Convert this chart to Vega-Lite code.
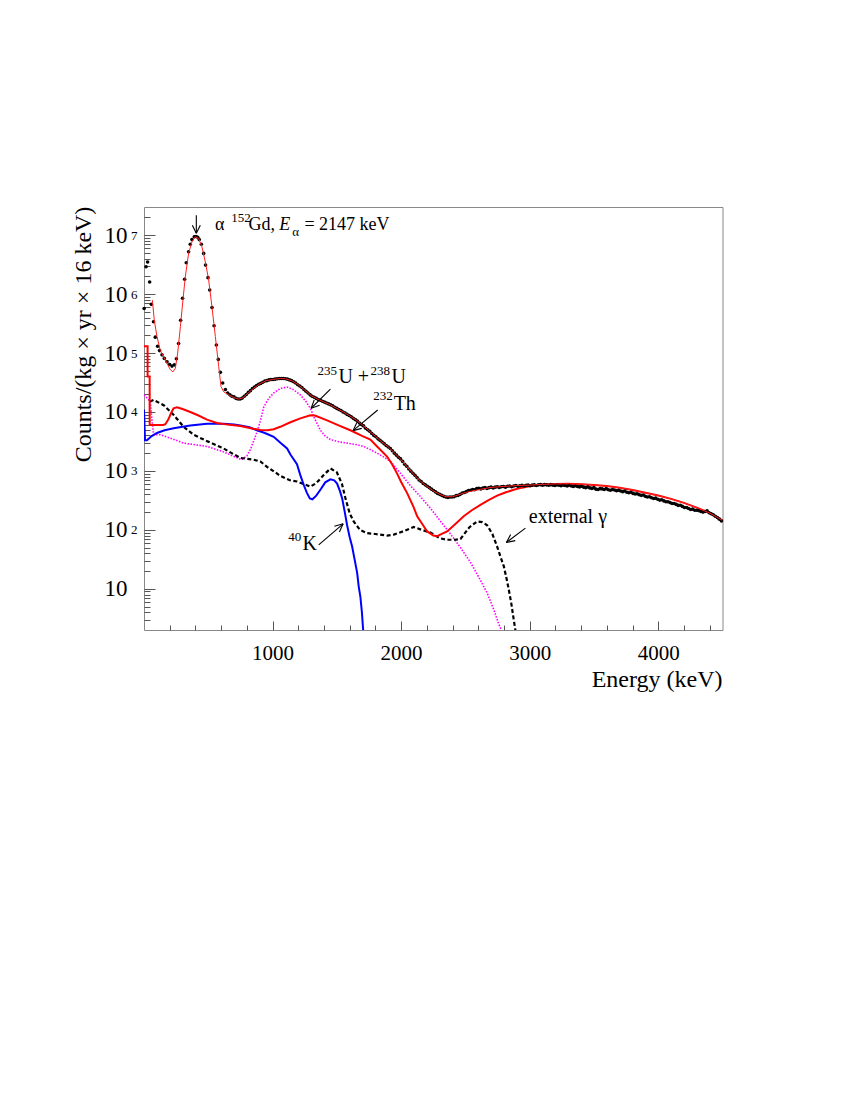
{
  "$schema": "https://vega.github.io/schema/vega-lite/v6.json",
  "width": 578.5,
  "height": 423,
  "autosize": {"type": "none"},
  "padding": {"left": 144, "top": 207, "right": 127, "bottom": 470},
  "background": "white",
  "config": {
    "font": "Liberation Serif",
    "view": {"stroke": "#888888", "strokeWidth": 1},
    "axis": {"domain": false, "grid": false, "tickColor": "#555555", "labelColor": "#000000", "titleColor": "#000000", "labelFont": "Liberation Serif", "titleFont": "Liberation Serif", "titleFontWeight": "normal"},
    "text": {"font": "Liberation Serif", "align": "left", "baseline": "alphabetic", "color": "#000000"}
  },
  "datasets": {
    "obs": [
      {"E":1,"C":570000},{"E":16,"C":2900000},{"E":28,"C":3500000},{"E":44,"C":1600000},{"E":57,"C":670000},{"E":74,"C":340000},{"E":88,"C":186000},{"E":106,"C":130000},{"E":121,"C":110000},{"E":140,"C":93000},{"E":158,"C":81000},{"E":179,"C":71000},{"E":199,"C":64000},{"E":218,"C":60000},{"E":236,"C":63000},{"E":252,"C":80000},{"E":269,"C":145000},{"E":285,"C":360000},{"E":300,"C":850000},{"E":316,"C":1780000},{"E":329,"C":3400000},{"E":347,"C":5200000},{"E":360,"C":7000000},{"E":373,"C":8400000},{"E":391,"C":9400000},{"E":405,"C":9500000},{"E":418,"C":9200000},{"E":430,"C":8400000},{"E":446,"C":7000000},{"E":464,"C":4900000},{"E":479,"C":3100000},{"E":498,"C":1900000},{"E":511,"C":1170000},{"E":529,"C":590000},{"E":545,"C":290000},{"E":563,"C":137000},{"E":578,"C":78000},{"E":594,"C":47000},{"E":612,"C":31000},{"E":633,"C":24000},{"E":651,"C":21000},
      {"E":668,"C":19500},{"E":684,"C":18500},{"E":700,"C":18000},{"E":716,"C":17000},{"E":732,"C":16600},{"E":748,"C":16600},{"E":764,"C":17200},{"E":780,"C":18500},{"E":796,"C":19800},{"E":812,"C":21500},{"E":828,"C":23000},{"E":844,"C":25000},{"E":860,"C":26500},{"E":876,"C":28000},{"E":892,"C":29500},{"E":908,"C":30500},{"E":924,"C":32000},{"E":940,"C":33500},{"E":956,"C":34000},{"E":972,"C":35000},{"E":988,"C":35500},{"E":1004,"C":35500},{"E":1020,"C":36000},{"E":1036,"C":36500},{"E":1052,"C":37000},{"E":1068,"C":37000},{"E":1084,"C":37000},{"E":1100,"C":36500},{"E":1116,"C":36000},{"E":1132,"C":35000},{"E":1148,"C":34000},{"E":1164,"C":32500},{"E":1180,"C":31000},{"E":1196,"C":29000},{"E":1212,"C":27500},{"E":1228,"C":26000},{"E":1244,"C":24000},{"E":1260,"C":22500},{"E":1276,"C":21000},{"E":1292,"C":19500},{"E":1308,"C":18500},{"E":1324,"C":17800},{"E":1340,"C":17000},{"E":1356,"C":16300},{"E":1372,"C":15800},{"E":1388,"C":15200},{"E":1404,"C":14700},{"E":1420,"C":14200},{"E":1436,"C":13700},{"E":1452,"C":13200},{"E":1468,"C":12700},{"E":1484,"C":12000},{"E":1500,"C":11500},{"E":1516,"C":11000},{"E":1532,"C":10600},{"E":1548,"C":10000},{"E":1564,"C":9600},{"E":1580,"C":9100},{"E":1596,"C":8700},{"E":1612,"C":8300},{"E":1628,"C":7800},{"E":1644,"C":7400},{"E":1660,"C":7000},{"E":1676,"C":6500},{"E":1692,"C":6100},{"E":1708,"C":5800},{"E":1724,"C":5300},{"E":1740,"C":5000},{"E":1756,"C":4700},{"E":1772,"C":4300},{"E":1788,"C":4000},{"E":1804,"C":3800},{"E":1820,"C":3500},{"E":1836,"C":3300},{"E":1852,"C":3100},{"E":1868,"C":2900},{"E":1884,"C":2700},{"E":1900,"C":2550},{"E":1916,"C":2400},{"E":1932,"C":2200},{"E":1948,"C":2000},{"E":1964,"C":1850},{"E":1980,"C":1700},{"E":1996,"C":1600},{"E":2012,"C":1450},{"E":2028,"C":1300},{"E":2044,"C":1200},{"E":2060,"C":1080},{"E":2076,"C":990},{"E":2092,"C":910},{"E":2108,"C":840},{"E":2124,"C":770},{"E":2140,"C":700},{"E":2156,"C":660},{"E":2172,"C":610},{"E":2188,"C":580},{"E":2204,"C":550},{"E":2220,"C":520},{"E":2236,"C":490},{"E":2252,"C":465},{"E":2268,"C":440},{"E":2284,"C":415},{"E":2300,"C":400},{"E":2316,"C":385},{"E":2332,"C":370},{"E":2348,"C":360},{"E":2364,"C":355},{"E":2380,"C":360},{"E":2396,"C":360},{"E":2412,"C":365},{"E":2428,"C":380},{"E":2444,"C":385},{"E":2460,"C":400},{"E":2476,"C":420},{"E":2492,"C":430},{"E":2508,"C":445},{"E":2524,"C":465},{"E":2540,"C":470},{"E":2556,"C":485},{"E":2572,"C":480},{"E":2588,"C":500},{"E":2604,"C":505},{"E":2620,"C":495},{"E":2636,"C":510},{"E":2652,"C":520},{"E":2668,"C":505},{"E":2684,"C":520},{"E":2700,"C":530},{"E":2716,"C":515},{"E":2732,"C":530},{"E":2748,"C":540},{"E":2764,"C":525},{"E":2780,"C":540},{"E":2796,"C":545},{"E":2812,"C":530},{"E":2828,"C":550},{"E":2844,"C":555},{"E":2860,"C":540},{"E":2876,"C":555},{"E":2892,"C":565},{"E":2908,"C":550},{"E":2924,"C":560},{"E":2940,"C":570},{"E":2956,"C":555},{"E":2972,"C":570},{"E":2988,"C":575},{"E":3004,"C":560},{"E":3020,"C":575},{"E":3036,"C":580},{"E":3052,"C":565},{"E":3068,"C":580},{"E":3084,"C":585},{"E":3100,"C":570},{"E":3116,"C":585},{"E":3132,"C":580},{"E":3148,"C":570},{"E":3164,"C":585},{"E":3180,"C":575},{"E":3196,"C":565},{"E":3212,"C":580},{"E":3228,"C":570},{"E":3244,"C":560},{"E":3260,"C":575},{"E":3276,"C":565},{"E":3292,"C":555},{"E":3308,"C":570},{"E":3324,"C":555},{"E":3340,"C":545},{"E":3356,"C":560},{"E":3372,"C":545},{"E":3388,"C":535},{"E":3404,"C":550},{"E":3420,"C":530},{"E":3436,"C":520},{"E":3452,"C":535},{"E":3468,"C":515},{"E":3484,"C":505},{"E":3500,"C":520},{"E":3516,"C":490},{"E":3532,"C":485},{"E":3548,"C":500},{"E":3564,"C":495},{"E":3580,"C":485},{"E":3596,"C":500},{"E":3612,"C":480},{"E":3628,"C":470},{"E":3644,"C":485},{"E":3660,"C":475},{"E":3676,"C":460},{"E":3692,"C":470},{"E":3708,"C":455},{"E":3724,"C":445},{"E":3740,"C":455},{"E":3756,"C":435},{"E":3772,"C":425},{"E":3788,"C":435},{"E":3804,"C":415},{"E":3820,"C":405},{"E":3836,"C":410},{"E":3852,"C":395},{"E":3868,"C":385},{"E":3884,"C":390},{"E":3900,"C":370},{"E":3916,"C":360},{"E":3932,"C":365},{"E":3948,"C":350},{"E":3964,"C":340},{"E":3980,"C":345},{"E":3996,"C":330},{"E":4012,"C":320},{"E":4028,"C":325},{"E":4044,"C":310},{"E":4060,"C":300},{"E":4076,"C":300},{"E":4092,"C":290},{"E":4108,"C":280},{"E":4124,"C":280},{"E":4140,"C":270},{"E":4156,"C":260},{"E":4172,"C":262},{"E":4188,"C":250},{"E":4204,"C":240},{"E":4220,"C":240},{"E":4236,"C":230},{"E":4252,"C":222},{"E":4268,"C":225},{"E":4284,"C":215},{"E":4300,"C":215},{"E":4316,"C":212},{"E":4332,"C":205},{"E":4348,"C":200},{"E":4364,"C":205},{"E":4380,"C":210},{"E":4396,"C":195},{"E":4412,"C":188},{"E":4428,"C":180},{"E":4444,"C":170},{"E":4460,"C":162},{"E":4476,"C":152},{"E":4492,"C":142}
    ],
    "fit": [
      {"E":65,"C":790000},{"E":80,"C":360000},{"E":101,"C":190000},{"E":127,"C":110000},{"E":166,"C":76000},{"E":205,"C":52000},{"E":225,"C":48000},{"E":244,"C":55000},{"E":262,"C":100000},{"E":283,"C":280000},{"E":303,"C":790000},{"E":321,"C":1950000},{"E":347,"C":4900000},{"E":373,"C":7700000},{"E":399,"C":9400000},{"E":425,"C":8800000},{"E":451,"C":6300000},{"E":477,"C":3500000},{"E":503,"C":1740000},{"E":529,"C":600000},{"E":555,"C":190000},{"E":581,"C":59000},{"E":599,"C":27000},{"E":620,"C":22000},{"E":659,"C":19500},{"E":700,"C":17500},{"E":736,"C":16500},{"E":770,"C":17500},{"E":800,"C":20000},{"E":850,"C":25000},{"E":900,"C":30000},{"E":950,"C":34000},{"E":1000,"C":35500},{"E":1060,"C":37000},{"E":1100,"C":36500},{"E":1150,"C":34000},{"E":1200,"C":29000},{"E":1250,"C":23500},{"E":1300,"C":19000},{"E":1350,"C":16500},{"E":1400,"C":14800},{"E":1450,"C":13200},{"E":1500,"C":11500},{"E":1550,"C":10000},{"E":1600,"C":8600},{"E":1650,"C":7300},{"E":1700,"C":6000},{"E":1750,"C":4800},{"E":1800,"C":3850},{"E":1850,"C":3100},{"E":1900,"C":2550},{"E":1950,"C":2000},{"E":2000,"C":1550},{"E":2050,"C":1150},{"E":2100,"C":870},{"E":2150,"C":670},{"E":2200,"C":550},{"E":2250,"C":460},{"E":2300,"C":400},{"E":2350,"C":365},{"E":2400,"C":365},{"E":2450,"C":395},{"E":2500,"C":430},{"E":2600,"C":480},{"E":2700,"C":525},{"E":2800,"C":545},{"E":2900,"C":565},{"E":3000,"C":575},{"E":3100,"C":590},{"E":3200,"C":600},{"E":3300,"C":605},{"E":3400,"C":595},{"E":3500,"C":575},{"E":3600,"C":552},{"E":3700,"C":518},{"E":3800,"C":474},{"E":3900,"C":425},{"E":4000,"C":383},{"E":4100,"C":335},{"E":4200,"C":287},{"E":4300,"C":238},{"E":4400,"C":193},{"E":4500,"C":145}
    ],
    "th": [
      {"E":0,"C":130000},{"E":28,"C":130000},{"E":28,"C":40000},{"E":44,"C":40000},{"E":44,"C":6000},{"E":100,"C":6000},{"E":150,"C":6000},{"E":166,"C":6200},{"E":190,"C":7500},{"E":210,"C":9500},{"E":230,"C":11500},{"E":257,"C":12000},{"E":300,"C":11200},{"E":360,"C":10000},{"E":420,"C":8800},{"E":490,"C":7400},{"E":568,"C":6500},{"E":650,"C":6100},{"E":750,"C":5800},{"E":850,"C":5200},{"E":905,"C":4950},{"E":960,"C":4900},{"E":1009,"C":5100},{"E":1060,"C":5600},{"E":1139,"C":6700},{"E":1216,"C":7800},{"E":1294,"C":8800},{"E":1330,"C":8700},{"E":1424,"C":7200},{"E":1500,"C":6100},{"E":1605,"C":4900},{"E":1700,"C":3900},{"E":1761,"C":3400},{"E":1813,"C":2600},{"E":1891,"C":1750},{"E":1930,"C":1300},{"E":1969,"C":900},{"E":2000,"C":650},{"E":2047,"C":420},{"E":2098,"C":240},{"E":2125,"C":170},{"E":2176,"C":115},{"E":2203,"C":94},{"E":2250,"C":80},{"E":2280,"C":78},{"E":2320,"C":86},{"E":2358,"C":94},{"E":2420,"C":125},{"E":2487,"C":170},{"E":2550,"C":215},{"E":2617,"C":265},{"E":2680,"C":320},{"E":2747,"C":380},{"E":2810,"C":430},{"E":2876,"C":480},{"E":2940,"C":520},{"E":3006,"C":556},{"E":3100,"C":590},{"E":3200,"C":600},{"E":3300,"C":605},{"E":3400,"C":595},{"E":3500,"C":575},{"E":3600,"C":552},{"E":3700,"C":518},{"E":3800,"C":474},{"E":3900,"C":425},{"E":4000,"C":383},{"E":4100,"C":335},{"E":4200,"C":287},{"E":4300,"C":238},{"E":4400,"C":193},{"E":4500,"C":145}
    ],
    "u": [
      {"E":0,"C":19500},{"E":49,"C":15000},{"E":62,"C":7200},{"E":75,"C":4100},{"E":127,"C":4100},{"E":205,"C":3600},{"E":308,"C":2960},{"E":490,"C":2600},{"E":620,"C":2100},{"E":700,"C":1750},{"E":760,"C":1550},{"E":800,"C":1800},{"E":827,"C":2300},{"E":855,"C":3300},{"E":879,"C":4600},{"E":905,"C":7000},{"E":931,"C":12000},{"E":970,"C":17000},{"E":1009,"C":21000},{"E":1060,"C":25000},{"E":1113,"C":26500},{"E":1160,"C":24000},{"E":1216,"C":19500},{"E":1260,"C":15000},{"E":1294,"C":11500},{"E":1330,"C":7500},{"E":1372,"C":4900},{"E":1410,"C":3900},{"E":1450,"C":3400},{"E":1520,"C":3100},{"E":1580,"C":2960},{"E":1650,"C":2800},{"E":1709,"C":2600},{"E":1760,"C":2300},{"E":1813,"C":2000},{"E":1870,"C":1700},{"E":1917,"C":1450},{"E":1995,"C":910},{"E":2070,"C":570},{"E":2150,"C":367},{"E":2230,"C":230},{"E":2306,"C":140},{"E":2384,"C":85},{"E":2462,"C":50},{"E":2540,"C":28},{"E":2617,"C":14},{"E":2669,"C":8.5},{"E":2720,"C":4.5},{"E":2760,"C":2.5},{"E":2790,"C":1.8}
    ],
    "k": [
      {"E":0,"C":11000},{"E":8,"C":3300},{"E":23,"C":3300},{"E":60,"C":3900},{"E":101,"C":4400},{"E":160,"C":4900},{"E":231,"C":5300},{"E":300,"C":5600},{"E":360,"C":5900},{"E":490,"C":6300},{"E":620,"C":6300},{"E":700,"C":6100},{"E":750,"C":5900},{"E":820,"C":5500},{"E":879,"C":4900},{"E":940,"C":4400},{"E":1009,"C":3800},{"E":1061,"C":3000},{"E":1113,"C":2400},{"E":1139,"C":1900},{"E":1190,"C":1300},{"E":1216,"C":850},{"E":1245,"C":560},{"E":1268,"C":420},{"E":1290,"C":340},{"E":1310,"C":330},{"E":1340,"C":380},{"E":1372,"C":480},{"E":1410,"C":640},{"E":1450,"C":720},{"E":1480,"C":690},{"E":1502,"C":610},{"E":1525,"C":450},{"E":1541,"C":345},{"E":1560,"C":210},{"E":1580,"C":120},{"E":1600,"C":75},{"E":1619,"C":52},{"E":1640,"C":30},{"E":1658,"C":18.6},{"E":1670,"C":11},{"E":1683,"C":7.4},{"E":1695,"C":4},{"E":1704,"C":2.1},{"E":1712,"C":1.5}
    ],
    "ext": [
      {"E":45,"C":15000},{"E":75,"C":16000},{"E":153,"C":13000},{"E":231,"C":8900},{"E":308,"C":5600},{"E":386,"C":4100},{"E":490,"C":3200},{"E":620,"C":2400},{"E":700,"C":1900},{"E":750,"C":1660},{"E":853,"C":1550},{"E":905,"C":1450},{"E":957,"C":1170},{"E":1020,"C":950},{"E":1061,"C":820},{"E":1130,"C":700},{"E":1190,"C":660},{"E":1250,"C":590},{"E":1294,"C":540},{"E":1340,"C":620},{"E":1398,"C":850},{"E":1450,"C":1100},{"E":1500,"C":950},{"E":1540,"C":600},{"E":1566,"C":350},{"E":1600,"C":190},{"E":1631,"C":139},{"E":1680,"C":100},{"E":1735,"C":88},{"E":1800,"C":85},{"E":1891,"C":80},{"E":1943,"C":83},{"E":2020,"C":95},{"E":2098,"C":112},{"E":2160,"C":100},{"E":2228,"C":90},{"E":2300,"C":72},{"E":2358,"C":68},{"E":2420,"C":68},{"E":2462,"C":70},{"E":2530,"C":110},{"E":2591,"C":139},{"E":2630,"C":135},{"E":2669,"C":120},{"E":2710,"C":85},{"E":2747,"C":52},{"E":2775,"C":34},{"E":2799,"C":24},{"E":2820,"C":15},{"E":2838,"C":9.6},{"E":2858,"C":5.5},{"E":2876,"C":3},{"E":2892,"C":1.8}
    ],
    "arrows": [
      {"E":1450,"C":24300,"E2":1300,"C2":11560},{"E":1300,"C":11560,"E2":1366,"C2":13000},{"E":1300,"C":11560,"E2":1324,"C2":16000},
      {"E":1818,"C":10810,"E2":1626,"C2":4820},{"E":1626,"C":4820,"E2":1694,"C2":5270},{"E":1626,"C":4820,"E2":1656,"C2":6640},
      {"E":1359,"C":55.7,"E2":1549,"C2":126.5},{"E":1549,"C":126.5,"E2":1481,"C2":115},{"E":1549,"C":126.5,"E2":1520,"C2":91.8},
      {"E":2967,"C":107,"E2":2819,"C2":61},{"E":2819,"C":61,"E2":2888,"C2":65.6},{"E":2819,"C":61,"E2":2852,"C2":83.2},
      {"E":407,"C":21800000,"E2":407,"C2":10800000},{"E":407,"C":10800000,"E2":376,"C2":14760000},{"E":407,"C":10800000,"E2":438,"C2":14760000}
    ],
    "peakText": [
      {"E":553,"C":12200000,"t":"α"},{"E":812,"C":12200000,"t":"Gd,"},{"E":1248,"C":12200000,"t":"= 2147 keV"}
    ],
    "peakItalic": [{"E":1053,"C":12200000,"t":"E"}],
    "peakSup": [{"E":679,"C":16600000,"t":"152"},{"E":1154,"C":9600000,"t":"α"}],
    "isoText": [
      {"E":1512,"C":30400,"t":"U +"},{"E":1925,"C":30400,"t":"U"},{"E":1942,"C":10800,"t":"Th"},{"E":1232,"C":45.8,"t":"K"},{"E":2993,"C":129,"t":"external γ"}
    ],
    "isoSup": [
      {"E":1349,"C":42400,"t":"235"},{"E":1761,"C":42400,"t":"238"},{"E":1784,"C":16000,"t":"232"},{"E":1123,"C":65.2,"t":"40"}
    ]
  },
  "resolve": {"axis": {"x": "independent", "y": "independent"}},
  "layer": [
    {
      "data": {"name": "u"},
      "mark": {"type": "line", "color": "#ff00ff", "strokeWidth": 1.6, "strokeDash": [1.5, 1.5], "clip": true},
      "encoding": {
        "x": {"field": "E", "type": "quantitative", "scale": {"domain": [0, 4500], "nice": false, "zero": false},
          "axis": {"orient": "bottom", "values": [1000, 2000, 3000, 4000], "format": "d", "labelFontSize": 21, "tickSize": -9, "labelPadding": 21, "labelFlush": false,
            "title": "Energy (keV)", "titleFontSize": 24, "titleX": 578, "titleY": 56, "titleAlign": "right", "titleBaseline": "alphabetic"}},
        "y": {"field": "C", "type": "quantitative", "scale": {"type": "log", "domain": [2, 30000000], "nice": false},
          "axis": {"orient": "left", "values": [10, 100, 1000, 10000, 100000, 1000000, 10000000], "labelExpr": "'10'", "labelFontSize": 23, "tickSize": -11, "labelPadding": 28, "labelBaseline": "middle",
            "title": "Counts/(kg × yr × 16 keV)", "titleFontSize": 24, "titleX": -54, "titleY": 127, "titleAngle": 270, "titleAlign": "center", "titleBaseline": "alphabetic"}}
      }
    },
    {
      "data": {"name": "ext"},
      "mark": {"type": "line", "color": "#000000", "strokeWidth": 2.2, "strokeDash": [4, 2.5], "clip": true},
      "encoding": {
        "x": {"field": "E", "type": "quantitative",
          "axis": {"orient": "bottom", "values": [200, 400, 600, 800, 1200, 1400, 1600, 1800, 2200, 2400, 2600, 2800, 3200, 3400, 3600, 3800, 4200, 4400], "labels": false, "tickSize": -5, "title": null}},
        "y": {"field": "C", "type": "quantitative",
          "axis": {"orient": "left", "values": [3, 4, 5, 6, 7, 8, 9, 20, 30, 40, 50, 60, 70, 80, 90, 200, 300, 400, 500, 600, 700, 800, 900, 2000, 3000, 4000, 5000, 6000, 7000, 8000, 9000, 20000, 30000, 40000, 50000, 60000, 70000, 80000, 90000, 200000, 300000, 400000, 500000, 600000, 700000, 800000, 900000, 2000000, 3000000, 4000000, 5000000, 6000000, 7000000, 8000000, 9000000, 20000000], "labels": false, "tickSize": -6, "title": null}}
      }
    },
    {
      "data": {"name": "k"},
      "mark": {"type": "line", "color": "#0000ff", "strokeWidth": 2, "clip": true},
      "encoding": {
        "x": {"field": "E", "type": "quantitative", "axis": null},
        "y": {"field": "C", "type": "quantitative",
          "axis": {"orient": "left", "values": [100, 1000, 10000, 100000, 1000000, 10000000], "labelExpr": "'' + round(log(datum.value) / LN10)", "labelFontSize": 13, "ticks": false, "labelPadding": 7, "labelDy": -7, "labelBaseline": "middle", "title": null}}
      }
    },
    {
      "data": {"name": "th"},
      "mark": {"type": "line", "color": "#ff0000", "strokeWidth": 2, "clip": true},
      "encoding": {
        "x": {"field": "E", "type": "quantitative", "axis": null},
        "y": {"field": "C", "type": "quantitative", "axis": null}
      }
    },
    {
      "data": {"name": "obs"},
      "mark": {"type": "point", "filled": true, "color": "#000000", "size": 13, "opacity": 1},
      "encoding": {
        "x": {"field": "E", "type": "quantitative", "axis": null},
        "y": {"field": "C", "type": "quantitative", "axis": null}
      }
    },
    {
      "data": {"name": "fit"},
      "mark": {"type": "line", "color": "#ff2020", "strokeWidth": 1, "clip": true},
      "encoding": {
        "x": {"field": "E", "type": "quantitative", "axis": null},
        "y": {"field": "C", "type": "quantitative", "axis": null}
      }
    },
    {
      "data": {"name": "arrows"},
      "mark": {"type": "rule", "color": "#000000", "strokeWidth": 1.1},
      "encoding": {
        "x": {"field": "E", "type": "quantitative", "axis": null},
        "y": {"field": "C", "type": "quantitative", "axis": null},
        "x2": {"field": "E2"},
        "y2": {"field": "C2"}
      }
    },
    {
      "data": {"name": "peakText"},
      "mark": {"type": "text", "fontSize": 18},
      "encoding": {
        "x": {"field": "E", "type": "quantitative", "axis": null},
        "y": {"field": "C", "type": "quantitative", "axis": null},
        "text": {"field": "t"}
      }
    },
    {
      "data": {"name": "peakItalic"},
      "mark": {"type": "text", "fontSize": 18, "fontStyle": "italic"},
      "encoding": {
        "x": {"field": "E", "type": "quantitative", "axis": null},
        "y": {"field": "C", "type": "quantitative", "axis": null},
        "text": {"field": "t"}
      }
    },
    {
      "data": {"name": "peakSup"},
      "mark": {"type": "text", "fontSize": 13},
      "encoding": {
        "x": {"field": "E", "type": "quantitative", "axis": null},
        "y": {"field": "C", "type": "quantitative", "axis": null},
        "text": {"field": "t"}
      }
    },
    {
      "data": {"name": "isoText"},
      "mark": {"type": "text", "fontSize": 20},
      "encoding": {
        "x": {"field": "E", "type": "quantitative", "axis": null},
        "y": {"field": "C", "type": "quantitative", "axis": null},
        "text": {"field": "t"}
      }
    },
    {
      "data": {"name": "isoSup"},
      "mark": {"type": "text", "fontSize": 13},
      "encoding": {
        "x": {"field": "E", "type": "quantitative", "axis": null},
        "y": {"field": "C", "type": "quantitative", "axis": null},
        "text": {"field": "t"}
      }
    }
  ]
}
